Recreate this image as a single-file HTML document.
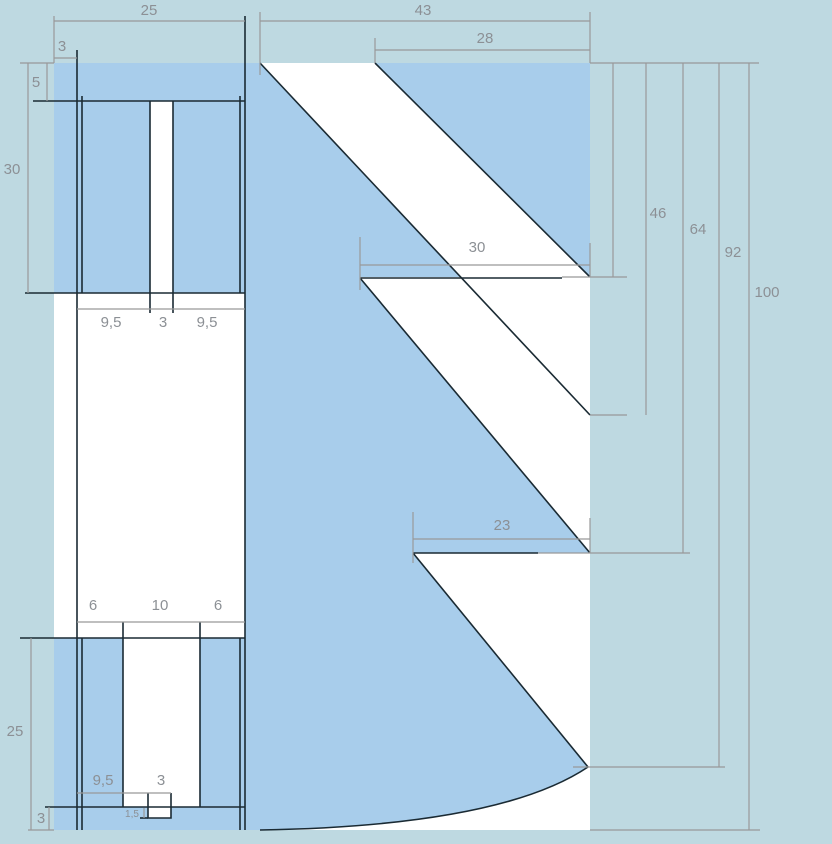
<!DOCTYPE html>
<html><head><meta charset="utf-8"><style>
html,body{margin:0;padding:0;background:#bed9e1;}
svg{display:block}
text{font-family:"Liberation Sans",sans-serif;fill:#8c9095;font-size:15px;text-anchor:middle}
</style></head><body>
<svg width="832" height="844" viewBox="0 0 832 844" xmlns="http://www.w3.org/2000/svg">
<rect width="832" height="844" fill="#bed9e1"/>
<rect x="54" y="63" width="191" height="767" fill="#fff"/>
<rect x="54" y="63" width="191" height="230" fill="#a8cdeb"/>
<rect x="150" y="101" width="23" height="192" fill="#fff"/>
<rect x="54" y="638" width="191" height="192" fill="#a8cdeb"/>
<rect x="123" y="638" width="77" height="169" fill="#fff"/>
<rect x="148" y="793" width="23" height="25" fill="#fff"/>
<rect x="245" y="63" width="345" height="767" fill="#a8cdeb"/>
<polygon points="260,63 375,63 590,277 461,277" fill="#fff"/>
<polygon points="360,277 590,277 590,553" fill="#fff"/>
<path d="M413,553 L590,553 L590,830 L260,830 Q500,826 588,767 Z" fill="#fff"/>
<g stroke="#1a2a33" stroke-width="1.6" fill="none">
<line x1="77" y1="50" x2="77" y2="830"/>
<line x1="82" y1="96" x2="82" y2="293"/>
<line x1="82" y1="638" x2="82" y2="830"/>
<line x1="245" y1="16" x2="245" y2="830"/>
<line x1="240" y1="96" x2="240" y2="293"/>
<line x1="240" y1="638" x2="240" y2="830"/>
<line x1="33" y1="101" x2="245" y2="101"/>
<line x1="25" y1="293" x2="245" y2="293"/>
<line x1="20" y1="638" x2="245" y2="638"/>
<line x1="45" y1="807" x2="245" y2="807"/>
<line x1="150" y1="101" x2="150" y2="313"/>
<line x1="173" y1="101" x2="173" y2="313"/>
<line x1="123" y1="622" x2="123" y2="807"/>
<line x1="200" y1="622" x2="200" y2="807"/>
<polyline points="148,793 148,818 171,818 171,793"/>
<line x1="140" y1="818" x2="148" y2="818"/>
<line x1="260" y1="63" x2="590" y2="415"/>
<line x1="375" y1="63" x2="590" y2="277"/>
<line x1="360" y1="278" x2="562" y2="278"/>
<line x1="360" y1="278" x2="590" y2="553"/>
<line x1="413" y1="553" x2="538" y2="553"/>
<line x1="413" y1="553" x2="588" y2="767"/>
<path d="M260,830 Q500,826 588,767"/>
</g>
<g stroke="#999" stroke-width="1.2" fill="none">
<line x1="54" y1="21" x2="245" y2="21"/>
<line x1="54" y1="16" x2="54" y2="63"/>
<line x1="54" y1="58" x2="77" y2="58"/>
<line x1="20" y1="63" x2="54" y2="63"/>
<line x1="47" y1="63" x2="47" y2="101"/>
<line x1="28" y1="63" x2="28" y2="293"/>
<line x1="77" y1="309" x2="245" y2="309"/>
<line x1="77" y1="622" x2="245" y2="622"/>
<line x1="31" y1="638" x2="31" y2="830"/>
<line x1="49" y1="807" x2="49" y2="830"/>
<line x1="28" y1="830" x2="54" y2="830"/>
<line x1="77" y1="793" x2="171" y2="793"/>
<line x1="144" y1="808" x2="144" y2="818"/>
<line x1="260" y1="12" x2="260" y2="75"/>
<line x1="590" y1="12" x2="590" y2="63"/>
<line x1="260" y1="21" x2="590" y2="21"/>
<line x1="375" y1="38" x2="375" y2="63"/>
<line x1="375" y1="50" x2="590" y2="50"/>
<line x1="360" y1="237" x2="360" y2="290"/>
<line x1="590" y1="243" x2="590" y2="277"/>
<line x1="360" y1="265" x2="590" y2="265"/>
<line x1="413" y1="512" x2="413" y2="563"/>
<line x1="590" y1="518" x2="590" y2="553"/>
<line x1="413" y1="539" x2="590" y2="539"/>
<line x1="590" y1="63" x2="759" y2="63"/>
<line x1="562" y1="277" x2="627" y2="277"/>
<line x1="590" y1="415" x2="627" y2="415"/>
<line x1="538" y1="553" x2="690" y2="553"/>
<line x1="573" y1="767" x2="725" y2="767"/>
<line x1="590" y1="830" x2="760" y2="830"/>
<line x1="613" y1="63" x2="613" y2="277"/>
<line x1="646" y1="63" x2="646" y2="415"/>
<line x1="683" y1="63" x2="683" y2="553"/>
<line x1="719" y1="63" x2="719" y2="767"/>
<line x1="749" y1="63" x2="749" y2="830"/>
</g>
<text x="149" y="15">25</text>
<text x="62" y="51">3</text>
<text x="36" y="87">5</text>
<text x="12" y="174">30</text>
<text x="111" y="327">9,5</text>
<text x="163" y="327">3</text>
<text x="207" y="327">9,5</text>
<text x="93" y="610">6</text>
<text x="160" y="610">10</text>
<text x="218" y="610">6</text>
<text x="15" y="736">25</text>
<text x="41" y="823">3</text>
<text x="103" y="785">9,5</text>
<text x="161" y="785">3</text>
<text x="132" y="817" style="font-size:10px">1,5</text>
<text x="423" y="15">43</text>
<text x="485" y="43">28</text>
<text x="477" y="252">30</text>
<text x="502" y="530">23</text>
<text x="658" y="218">46</text>
<text x="698" y="234">64</text>
<text x="733" y="257">92</text>
<text x="767" y="297">100</text>
</svg>
</body></html>
